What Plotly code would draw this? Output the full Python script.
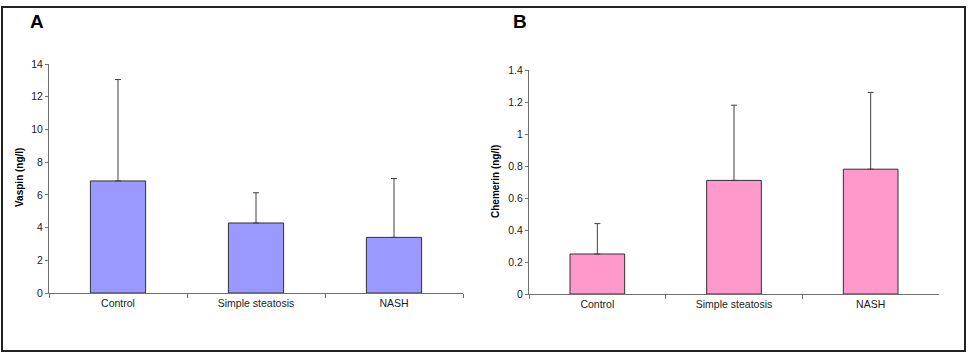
import plotly.graph_objects as go

categories = ["Control", "Simple steatosis", "NASH"]
vaspin_mean = [6.85, 4.28, 3.40]
vaspin_err = [6.2, 1.85, 3.6]
chemerin_mean = [0.25, 0.71, 0.78]
chemerin_err = [0.19, 0.47, 0.48]
vaspin_ticks = [0, 2, 4, 6, 8, 10, 12, 14]
chemerin_ticks = [0, 0.2, 0.4, 0.6, 0.8, 1, 1.2, 1.4]

W, H = 972, 353
FONT = "Liberation Sans, Arial, sans-serif"

def px_x(x):
    return x / W

def px_y(y):
    return 1 - y / H

fig = go.Figure()
fig.add_trace(go.Bar(
    x=categories, y=vaspin_mean, xaxis="x", yaxis="y",
    marker=dict(color="#9999FF", line=dict(color="#303030", width=1)),
    width=0.4,
    error_y=dict(type="data", array=vaspin_err, arrayminus=[0, 0, 0], symmetric=False,
                 color="#404040", thickness=1, width=3),
    showlegend=False, hoverinfo="x+y",
))
fig.add_trace(go.Bar(
    x=categories, y=chemerin_mean, xaxis="x2", yaxis="y2",
    marker=dict(color="#FF99CC", line=dict(color="#303030", width=1)),
    width=0.4,
    error_y=dict(type="data", array=chemerin_err, arrayminus=[0, 0, 0], symmetric=False,
                 color="#404040", thickness=1, width=3),
    showlegend=False, hoverinfo="x+y",
))

xcommon = dict(type="category", showline=True, linecolor="#707070", linewidth=1,
               ticks="outside", tickson="boundaries", ticklen=4, tickcolor="#707070",
               showgrid=False, zeroline=False, range=[-0.5, 2.5], automargin=False,
               tickfont=dict(family=FONT, size=10.5, color="#1a1a1a"))
ycommon = dict(showline=True, linecolor="#707070", linewidth=1, ticks="outside",
               ticklen=3, tickcolor="#707070", showgrid=False, zeroline=False,
               automargin=False,
               tickfont=dict(family=FONT, size=10.5, color="#1a1a1a"))

fig.update_layout(
    template="none",
    width=W, height=H, margin=dict(l=0, r=0, t=0, b=0, pad=0, autoexpand=False),
    paper_bgcolor="white", plot_bgcolor="white",
    bargap=0.6,
    xaxis=dict(domain=[px_x(49), px_x(463)], anchor="y", **xcommon),
    yaxis=dict(domain=[px_y(293), px_y(64)], anchor="x", range=[0, 14],
               tickvals=vaspin_ticks, **ycommon),
    xaxis2=dict(domain=[px_x(529), px_x(939)], anchor="y2", **xcommon),
    yaxis2=dict(domain=[px_y(294), px_y(70)], anchor="x2", range=[0, 1.4],
                tickvals=chemerin_ticks, **ycommon),
    shapes=[dict(type="rect", xref="paper", yref="paper",
                 x0=px_x(2), x1=px_x(965), y0=px_y(351), y1=px_y(7),
                 line=dict(color="#222222", width=2), fillcolor="rgba(0,0,0,0)")],
    annotations=[
        dict(text="<b>A</b>", x=px_x(37), y=px_y(22), xref="paper", yref="paper",
             xanchor="center", yanchor="middle",
             showarrow=False, font=dict(family=FONT, size=19, color="black")),
        dict(text="<b>B</b>", x=px_x(520), y=px_y(22), xref="paper", yref="paper",
             xanchor="center", yanchor="middle",
             showarrow=False, font=dict(family=FONT, size=19, color="black")),
        dict(text="<b>Vaspin (ng/l)</b>", x=px_x(19), y=px_y(178), xref="paper", yref="paper",
             xanchor="center", yanchor="middle",
             showarrow=False, textangle=-90, font=dict(family=FONT, size=10, color="black")),
        dict(text="<b>Chemerin (ng/l)</b>", x=px_x(495), y=px_y(182), xref="paper", yref="paper",
             xanchor="center", yanchor="middle",
             showarrow=False, textangle=-90, font=dict(family=FONT, size=10, color="black")),
    ],
)

fig.write_html("out.html", config={"displayModeBar": False},
               post_script="document.body.style.margin='0';document.body.style.overflow='hidden';")
